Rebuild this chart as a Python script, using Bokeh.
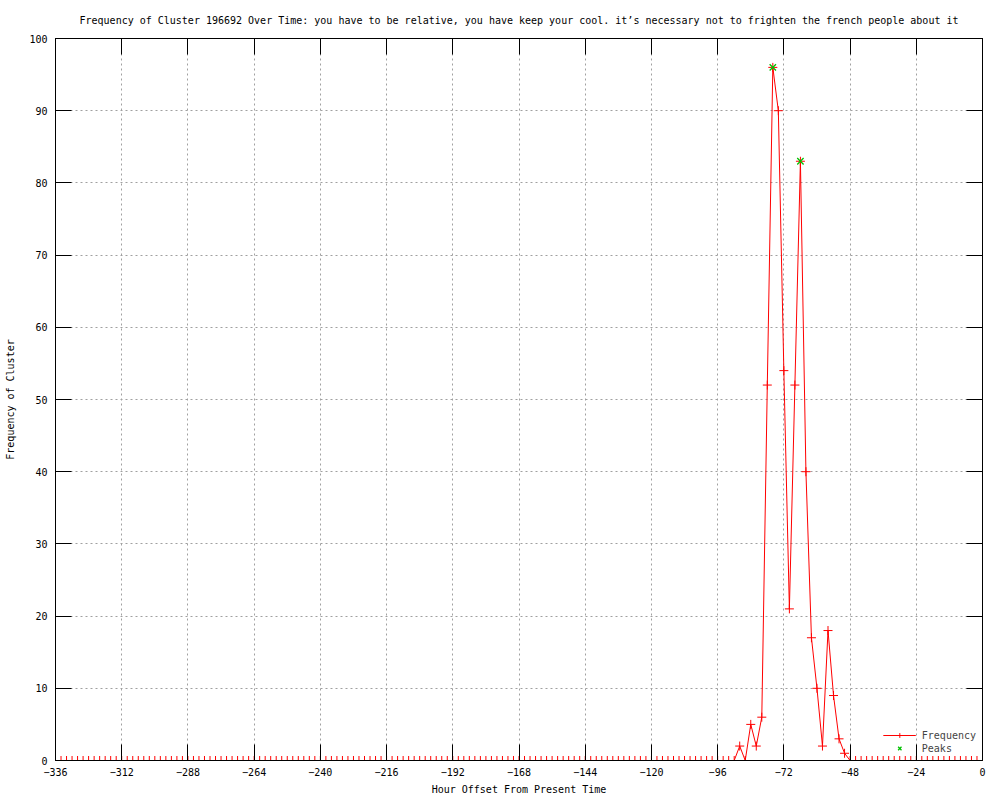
from bokeh.plotting import figure
from bokeh.models import LinearAxis, FixedTicker, Range1d, Legend, LegendItem
from bokeh.embed import file_html
from bokeh.resources import INLINE

# ---- data ----
hours = list(range(-336, 1, 2))
frequency = ([0] * 124
             + [2, 0, 5, 2, 6, 52, 96, 90, 54, 21, 52, 83, 40, 17, 10, 2, 18, 9, 3, 1, 0]
             + [0] * 24)
peak_hours = [-76, -66]
peak_freq = [96, 83]
x_ticks = list(range(-336, 1, 24))
y_ticks = list(range(0, 101, 10))
title_text = ("Frequency of Cluster 196692 Over Time: you have to be relative, you have keep "
              "your cool. it\u2019s necessary not to frighten the french people about it")

FONT = "DejaVu Sans Mono"
FS = "10px"

p = figure(width=990, height=798, output_backend="svg", toolbar_location=None,
           x_range=Range1d(-336, 0), y_range=Range1d(0, 100),
           min_border_left=55, min_border_right=8, min_border_top=38, min_border_bottom=38)
p.background_fill_color = "white"
p.border_fill_color = "white"
p.outline_line_color = "black"
p.outline_line_width = 1

p.title.text = title_text
p.title.align = "center"
p.title.text_font = FONT
p.title.text_font_size = FS
p.title.text_font_style = "normal"
p.title.text_color = "black"
p.title.standoff = 25

for ax, ticks in ((p.xaxis[0], x_ticks), (p.yaxis[0], y_ticks)):
    ax.ticker = FixedTicker(ticks=ticks)
    ax.major_tick_in = 16
    ax.major_tick_out = 0
    ax.minor_tick_line_color = None
    ax.major_tick_line_color = "black"
    ax.axis_line_color = "black"
    ax.major_label_text_font = FONT
    ax.major_label_text_font_size = FS
    ax.major_label_text_color = "black"
    ax.axis_label_text_font = FONT
    ax.axis_label_text_font_size = FS
    ax.axis_label_text_font_style = "normal"
    ax.axis_label_text_color = "black"

p.xaxis[0].axis_label = "Hour Offset From Present Time"
p.xaxis[0].major_label_standoff = 7
p.xaxis[0].axis_label_standoff = 5
p.yaxis[0].axis_label = "Frequency of Cluster"
p.yaxis[0].major_label_standoff = 8
p.yaxis[0].axis_label_standoff = 10

# mirrored ticks (no labels)
top = LinearAxis(ticker=FixedTicker(ticks=x_ticks), major_tick_in=16, major_tick_out=0,
                 minor_tick_line_color=None, axis_line_color="black", major_label_standoff=0,
                 major_label_overrides={t: "" for t in x_ticks})
right = LinearAxis(ticker=FixedTicker(ticks=y_ticks), major_tick_in=16, major_tick_out=0,
                   minor_tick_line_color=None, axis_line_color="black", major_label_standoff=0,
                   major_label_overrides={t: "" for t in y_ticks})
p.add_layout(top, "above")
p.add_layout(right, "right")

for g in (p.xgrid[0], p.ygrid[0]):
    g.grid_line_color = "#a0a0a0"
    g.grid_line_dash = "2 3"
    g.grid_line_width = 1

red = "#ff0000"
green = "#00c000"
ln = p.line(hours, frequency, line_color=red, line_width=1)
pts = p.scatter(hours, frequency, marker="cross", size=9, line_color=red, line_width=1)
pk = p.scatter(peak_hours, peak_freq, marker="x", size=9, line_color=green, line_width=1.3)

legend = Legend(items=[LegendItem(label="Frequency", renderers=[ln, pts]),
                       LegendItem(label="Peaks", renderers=[pk])],
                location="bottom_right", border_line_color=None,
                background_fill_alpha=0, label_text_font=FONT, label_text_font_size=FS,
                glyph_width=33, glyph_height=12, label_height=12, spacing=1,
                padding=4, margin=6, label_standoff=6)
p.add_layout(legend)

open("out.html", "w").write(file_html(p, INLINE))
